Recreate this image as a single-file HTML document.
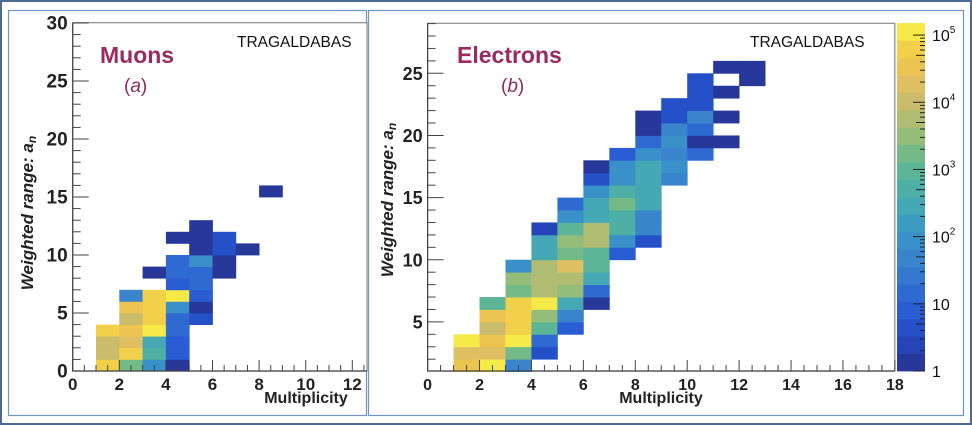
<!DOCTYPE html>
<html><head><meta charset="utf-8">
<style>
html,body{margin:0;padding:0;background:#fff;}
svg{display:block;font-family:"Liberation Sans",Arial,sans-serif;}
</style></head>
<body>
<svg id="fig" width="972" height="425" viewBox="0 0 972 425">
  <rect x="1" y="1" width="970" height="423" fill="#fff" stroke="#4a6a92" stroke-width="2"/>
  <rect x="8.5" y="10.5" width="358" height="405" fill="none" stroke="#6f95c8" stroke-width="1.2"/>
  <rect x="368.5" y="10.5" width="595" height="405" fill="none" stroke="#6f95c8" stroke-width="1.2"/>
  <g id="pa"></g>
  <g id="pb"></g>
  <g id="cb"></g>
</svg>
<script>
// Colour scale (20 discrete bands, log10 from 0 to 5.18)
const palette = ["#27389a","#2444b8","#2450c8","#2a5cd4","#2f6ad2","#3478d0","#3a84cc","#3a90c8","#3d9cc2","#45a8b4","#4eb0a4","#5cb596","#74ba86","#94bd7a","#b0bc72","#cabc6a","#dec062","#ecc452","#f3d04a","#f6ea48"];
const cbTickLabels = ["1","10","10","10","10","10"];
const cbTickExps = ["","","2","3","4","5"];

// Panel (a) Muons: bin low-edges (x = multiplicity, y = weighted range) and counts
const muonX = [1,2,3,4, 1,2,3,4, 1,2,3,4, 1,2,3,4, 2,3,4,5, 2,3,4,5, 2,3,4,5, 4,5, 3,4,5,6, 4,5,6, 5,6,7, 4,5,6, 5, 8];
const muonY = [0,0,0,0, 1,1,1,1, 2,2,2,2, 3,3,3,3, 4,4,4,4, 5,5,5,5, 6,6,6,6, 7,7, 8,8,8,8, 9,9,9, 10,10,10, 11,11,11, 12, 15];
const muonCounts = [54000,1600,80,1, 9300,54000,500,8, 9300,17000,270,8, 54000,30000,97000,15, 9300,54000,15,4, 30000,54000,80,1, 45,54000,97000,8, 8,15, 1,15,15,1, 15,80,1, 1,4,1, 1,1,4, 1, 1];

// Panel (b) Electrons
const eleX = [1,2,3, 1,2,3,4, 1,2,3,4, 2,3,4,5, 2,3,4,5, 2,3,4,5,6, 3,4,5,6, 3,4,5,6, 3,4,5,6, 4,5,6,7, 4,5,6,7,8, 4,5,6,7,8, 5,6,7,8, 5,6,7,8, 6,7,8, 6,7,8,9, 6,7,8,9, 7,8,9,10, 8,9,10,11, 8,9,10, 8,9,10,11, 9,10, 10,11, 10,12, 11,12];
const eleY = [1,1,1, 2,2,2,2, 3,3,3,3, 4,4,4,4, 5,5,5,5, 6,6,6,6,6, 7,7,7,7, 8,8,8,8, 9,9,9,9, 10,10,10,10, 11,11,11,11,11, 12,12,12,12,12, 13,13,13,13, 14,14,14,14, 15,15,15, 16,16,16,16, 17,17,17,17, 18,18,18,18, 19,19,19,19, 20,20,20, 21,21,21,21, 22,22, 23,23, 24,24, 25,25];
const eleCounts = [30000,97000,45, 17000,17000,1600,4, 97000,30000,97000,15, 9300,54000,900,8, 30000,54000,2900,45, 900,54000,97000,270,1, 1600,5000,2900,15, 2900,5000,5000,270, 80,5000,17000,900, 270,1600,900,8, 270,2900,5000,80,4, 2,900,5000,500,45, 80,270,500,45, 15,270,1600,270, 80,500,270, 4,80,270,45, 1,80,270,80, 8,80,45,15, 15,80,1,1, 1,45,15, 1,4,45,1, 4,4, 4,1, 4,1, 1,1];

const NS = "http://www.w3.org/2000/svg";
function mk(parent, tag, attrs, text){
  const el = document.createElementNS(NS, tag);
  for (const k in attrs) el.setAttribute(k, attrs[k]);
  if (text !== undefined) el.textContent = text;
  parent.appendChild(el);
  return el;
}
const LMAX = 5.18, NB = palette.length;
function colorOf(c){
  const l = Math.log10(Math.max(c,1));
  let i = Math.floor(l / LMAX * NB);
  if (i < 0) i = 0; if (i > NB-1) i = NB-1;
  return palette[i];
}

function drawPanel(g, cfg){
  const sx = v => cfg.x0 + (v - cfg.xmin) * cfg.ux;
  const sy = v => cfg.y0 - (v - cfg.ymin) * cfg.uy;
  // plot frame
  const frame = mk(g, "rect", {x:cfg.left, y:cfg.top, width:cfg.right-cfg.left, height:cfg.bottom-cfg.top, fill:"#fff", stroke:"#8a8a8a", "stroke-width":1.2});
  
  
  // cells
  for (let i = 0; i < cfg.xs.length; i++){
    const r = mk(g, "rect", {x:sx(cfg.xs[i]), y:sy(cfg.ys[i]+1), width:cfg.ux+0.4, height:cfg.uy+0.4, fill:colorOf(cfg.cs[i])});
    
    
  }
  // axes lines
  const ax = mk(g, "path", {d:`M${cfg.left},${cfg.top} V${cfg.bottom} H${cfg.right}`, stroke:"#444", "stroke-width":1.2, fill:"none"});
  
  
  // x ticks
  for (let v = cfg.xmin; v <= cfg.xmaxTick + 1e-6; v += 0.5){
    const X = sx(v); if (X > cfg.right + 0.5) break;
    const major = Math.abs(v % 2) < 1e-6;
    const len = major ? 11 : (Math.abs(v%1)<1e-6 ? 6 : 6);
    mk(g, "line", {x1:X, x2:X, y1:cfg.bottom, y2:cfg.bottom-len, stroke:"#444", "stroke-width":1});
    if (major){
      const t = mk(g, "text", {x:X, y:cfg.bottom+19, "text-anchor":"middle", "font-size":cfg.xfs, "font-weight":"bold", fill:"#222"}, String(v));
      
      
    }
  }
  // y ticks
  for (let v = Math.ceil(cfg.ymin); sy(v) >= cfg.top - 0.5; v += 1){
    const Y = sy(v);
    const major = v % 5 === 0;
    mk(g, "line", {x1:cfg.left, x2:cfg.left + (major ? 16 : 8), y1:Y, y2:Y, stroke:"#444", "stroke-width":1});
    if (major){
      const t = mk(g, "text", {x:cfg.left-5, y:Y+6.5, "text-anchor":"end", "font-size":cfg.yfs, "font-weight":"bold", fill:"#222"}, String(v));
      
      
    }
  }
  const xt = mk(g, "text", {x:cfg.xtX, y:403, "text-anchor":"middle", "font-size":16, "font-weight":"bold", fill:"#222"}, "Multiplicity");
  
  
  const yt = mk(g, "text", {x:0, y:0, transform:`translate(${cfg.ytX},${cfg.ytY}) rotate(-90)`, "text-anchor":"middle", "font-size":17, "font-weight":"bold", "font-style":"italic", fill:"#222"});
  
  
  yt.appendChild(document.createTextNode("Weighted range: a"));
  mk(yt, "tspan", {"font-size":12, dy:3}, "n");
  const tt = mk(g, "text", {x:cfg.tagX, y:47, "font-size":15.5, fill:"#111"}, "TRAGALDABAS");
  
  
  const pt = mk(g, "text", {x:cfg.titleX, y:63, "font-size":23, "font-weight":"bold", fill:"#9a2a62"}, cfg.title);
  
  
  const pl = mk(g, "text", {x:cfg.letX, y:92, "font-size":19, fill:"#8c2a62"});
  
  
  pl.appendChild(document.createTextNode("("));
  mk(pl, "tspan", {"font-style":"italic"}, cfg.letter);
  pl.appendChild(document.createTextNode(")"));
}

drawPanel(document.getElementById("pa"), {
  xs:muonX, ys:muonY, cs:muonCounts,
  x0:72.7, xmin:0, ux:23.3, y0:371, ymin:0, uy:11.6,
  left:72.7, right:367, top:22.7, bottom:371, xmaxTick:12.5,
  xfs:17, yfs:19, xtX:306, ytX:33, ytY:213,
  tagX:237, titleX:100, title:"Muons", letX:124, letter:"a"
});
drawPanel(document.getElementById("pb"), {
  xs:eleX, ys:eleY, cs:eleCounts,
  x0:427.6, xmin:0, ux:25.96, y0:371, ymin:1.05, uy:12.43,
  left:427.6, right:894.8, top:23.3, bottom:371, xmaxTick:18,
  xfs:16, yfs:18, xtX:661, ytX:393, ytY:200,
  tagX:750, titleX:457, title:"Electrons", letX:501, letter:"b"
});

// Colour bar
(function(){
  const g = document.getElementById("cb");
  const L = 897, R = 925, T = 23, B = 371;
  const h = (B - T) / NB;
  for (let i = 0; i < NB; i++){
    const r = mk(g, "rect", {x:L, y:B-(i+1)*h, width:R-L, height:h+0.4, fill:palette[i]});
    
    
  }
  const sy = l => B - l / LMAX * (B - T);
  for (let d = 0; d <= 5; d++){
    for (let m = 1; m <= 9; m++){
      const l = d + Math.log10(m);
      if (l > LMAX) break;
      mk(g, "line", {x1:R, x2:R-(m===1?12:(m===5?9:5)), y1:sy(l), y2:sy(l), stroke:"#222", "stroke-width":1});
    }
    const t = mk(g, "text", {x:932, y:sy(d)+6, "font-size":16, fill:"#111"}, cbTickLabels[d]);
    
    
    if (cbTickExps[d]) mk(t, "tspan", {"font-size":10, dy:-8}, cbTickExps[d]);
  }
})();
</script>
</body></html>
